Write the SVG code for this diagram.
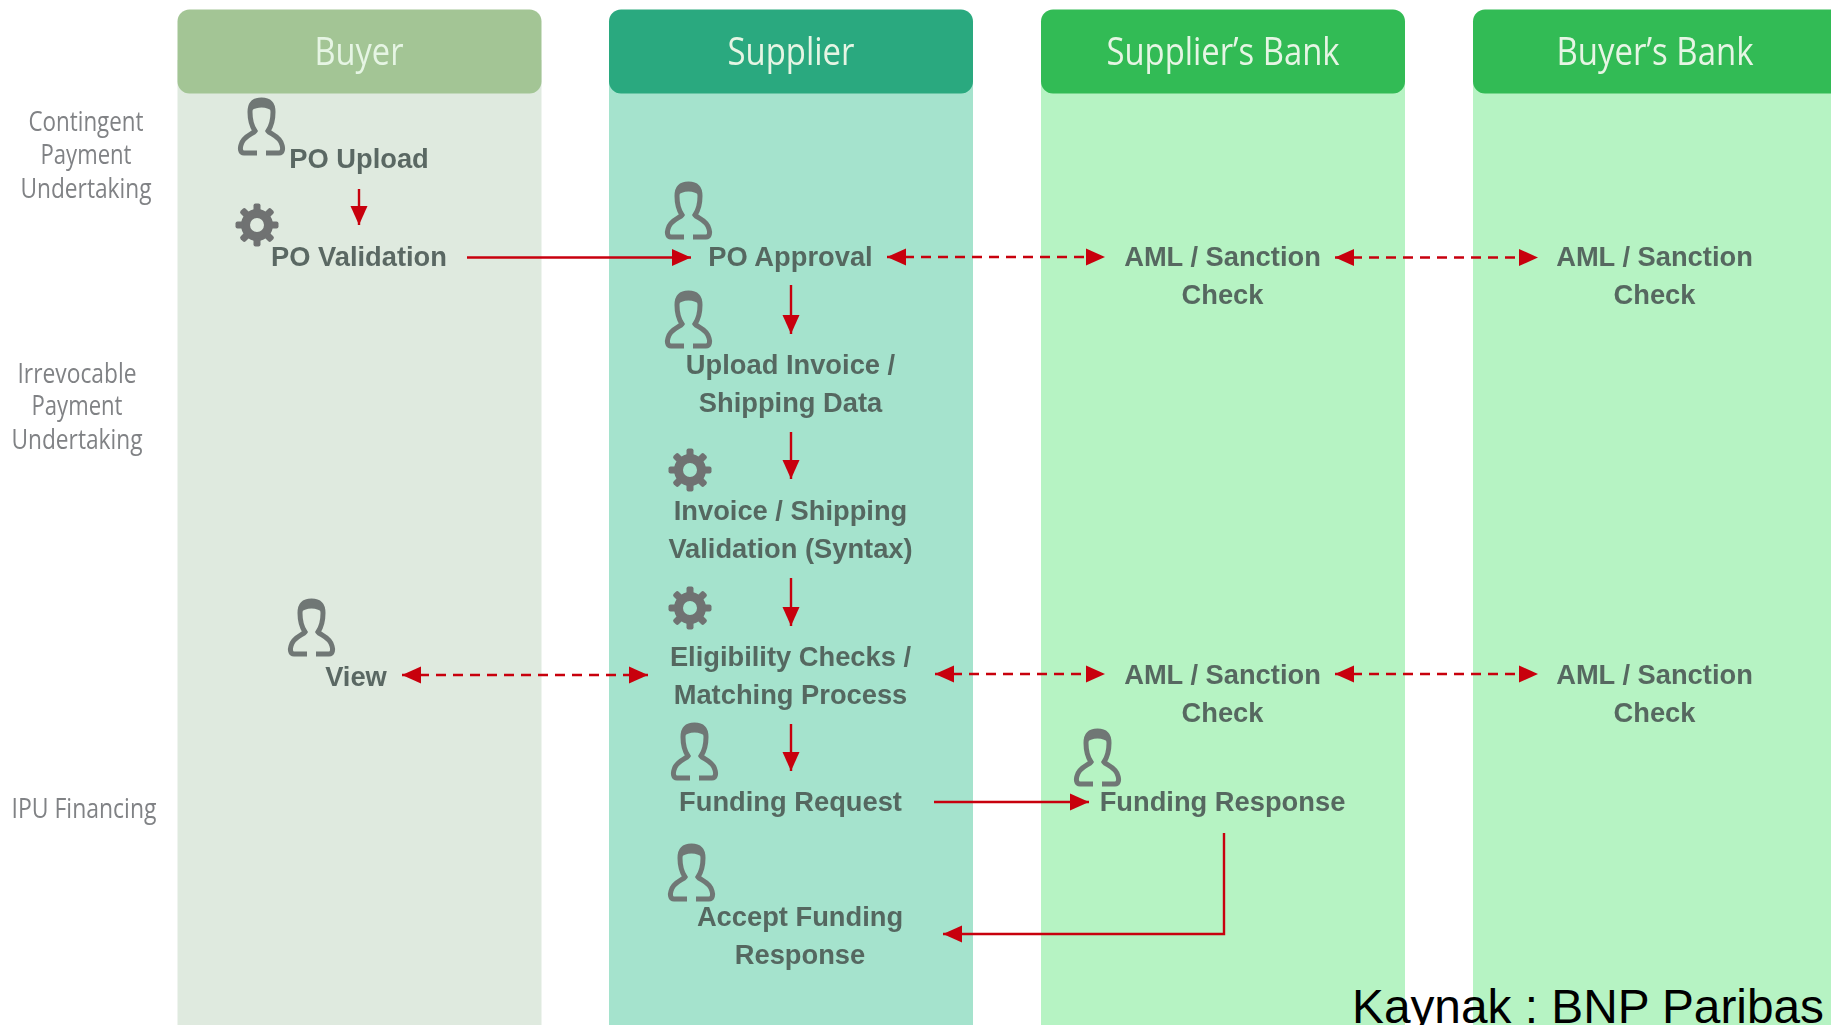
<svg xmlns="http://www.w3.org/2000/svg" xmlns:xlink="http://www.w3.org/1999/xlink" width="1831" height="1025" viewBox="0 0 1831 1025">
<style>
.hd{font-family:"Open Sans","Noto Sans",sans-serif;font-size:38px;fill:#e6f5e4;text-anchor:middle}
.sd{font-family:"Open Sans","Noto Sans",sans-serif;font-size:26.500px;fill:#808285;text-anchor:middle}
.lb{font-family:"Liberation Sans",Arial,sans-serif;font-weight:700;font-size:27.300px;fill:#4e5c58;fill-opacity:.92;text-anchor:middle}
.src{font-family:"Liberation Sans",Arial,sans-serif;font-size:47.800px;fill:#000}
.ln{fill:none;stroke:#c8000f;stroke-width:2.400}
.dash{stroke-dasharray:10 7;marker-start:url(#ah);marker-end:url(#ah)}
.solid{marker-end:url(#ah)}
.ic{fill:none;stroke:#6f7775;stroke-width:5}
.gf{fill:#6f7272}
</style>
<defs>
<marker id="ah" markerUnits="userSpaceOnUse" markerWidth="21" markerHeight="20" refX="19" refY="9" orient="auto-start-reverse"><path d="M0 0.500L19 9L0 17.500Z" fill="#c8000f"/></marker>
<g id="person"><path class="ic" d="M19 55H6C2 55 2 50 3 47C5 38 15 36 17 33C15 30 12 24 12 14C12 5 17 2 23.500 2C30 2 35 5 35 14C35 24 32 30 30 33C32 36 42 38 44 47C45 50 45 55 41 55H28"/><path d="M12 14C12 4 17 0 23.500 0C30 0 35 4 35 14C30 8 17 8 12 14Z" fill="#6f7775"/></g>
<g id="gear" class="gf"><circle r="11.500" fill="none" stroke="#6f7272" stroke-width="9"/><rect x="-3.500" y="-21.500" width="7" height="8" rx="2"/><rect x="-3.500" y="-21.500" width="7" height="8" rx="2" transform="rotate(45)"/><rect x="-3.500" y="-21.500" width="7" height="8" rx="2" transform="rotate(90)"/><rect x="-3.500" y="-21.500" width="7" height="8" rx="2" transform="rotate(135)"/><rect x="-3.500" y="-21.500" width="7" height="8" rx="2" transform="rotate(180)"/><rect x="-3.500" y="-21.500" width="7" height="8" rx="2" transform="rotate(225)"/><rect x="-3.500" y="-21.500" width="7" height="8" rx="2" transform="rotate(270)"/><rect x="-3.500" y="-21.500" width="7" height="8" rx="2" transform="rotate(315)"/></g>
<filter id="soft" x="0" y="0" width="100%" height="100%"><feGaussianBlur stdDeviation=".6"/></filter>
</defs>
<rect width="1831" height="1025" fill="#fff"/>
<g filter="url(#soft)">
<g id="lane-buyer"><rect x="177.500" y="60" width="364" height="965" fill="#dfeadf"/><rect x="177.500" y="9.500" width="364" height="84" rx="12" fill="#a3c595"/><text class="hd" x="359" y="65" textLength="89" lengthAdjust="spacingAndGlyphs">Buyer</text></g>
<g id="lane-supplier"><rect x="609" y="60" width="364" height="965" fill="#a5e3cd"/><rect x="609" y="9.500" width="364" height="84" rx="12" fill="#2aa97f"/><text class="hd" x="791" y="65" textLength="127" lengthAdjust="spacingAndGlyphs">Supplier</text></g>
<g id="lane-suppliers-bank"><rect x="1041" y="60" width="364" height="965" fill="#b6f3c3"/><rect x="1041" y="9.500" width="364" height="84" rx="12" fill="#33bb55"/><text class="hd" x="1223" y="65" textLength="233" lengthAdjust="spacingAndGlyphs">Supplier’s Bank</text></g>
<g id="lane-buyers-bank"><rect x="1473" y="60" width="358" height="965" fill="#b6f3c3"/><path d="M1831 9.500H1485a12 12 0 0 0-12 12V81.500a12 12 0 0 0 12 12H1831Z" fill="#33bb55"/><text class="hd" x="1655" y="65" textLength="197" lengthAdjust="spacingAndGlyphs">Buyer’s Bank</text></g>

<g id="phase-labels">
<text class="sd" x="86" y="131" textLength="115" lengthAdjust="spacingAndGlyphs">Contingent</text>
<text class="sd" x="86" y="164" textLength="91" lengthAdjust="spacingAndGlyphs">Payment</text>
<text class="sd" x="86" y="198" textLength="131" lengthAdjust="spacingAndGlyphs">Undertaking</text>
<text class="sd" x="77" y="383" textLength="119" lengthAdjust="spacingAndGlyphs">Irrevocable</text>
<text class="sd" x="77" y="415" textLength="91" lengthAdjust="spacingAndGlyphs">Payment</text>
<text class="sd" x="77" y="449" textLength="131" lengthAdjust="spacingAndGlyphs">Undertaking</text>
<text class="sd" x="84" y="818" textLength="145" lengthAdjust="spacingAndGlyphs">IPU Financing</text>
</g>

<g id="connectors">
<path class="ln solid" d="M359 189V225"/>
<path class="ln solid" d="M467 257.500H691"/>
<path class="ln solid" d="M791 285V334"/>
<path class="ln solid" d="M791 432V479"/>
<path class="ln solid" d="M791 578V626"/>
<path class="ln solid" d="M791 724V771"/>
<path class="ln dash" d="M887 257H1105"/>
<path class="ln dash" d="M1335 257.500H1538"/>
<path class="ln dash" d="M402 675H648"/>
<path class="ln dash" d="M935 674H1105"/>
<path class="ln dash" d="M1335 674H1538"/>
<path class="ln solid" d="M934 802H1089"/>
<path class="ln solid" d="M1224 833V934H943"/>
</g>

<g id="node-po-upload"><use href="#person" x="238" y="98"/><text class="lb" x="359" y="167.500">PO Upload</text></g>
<g id="node-po-validation"><use href="#gear" transform="translate(257 225)"/><text class="lb" x="359" y="265.500">PO Validation</text></g>
<g id="node-po-approval"><use href="#person" x="665" y="182"/><text class="lb" x="790.500" y="265.500">PO Approval</text></g>
<g id="node-upload-invoice"><use href="#person" x="665" y="291"/><text class="lb" x="790.500" y="373.500">Upload Invoice /</text><text class="lb" x="790.500" y="411.500">Shipping Data</text></g>
<g id="node-invoice-validation"><use href="#gear" transform="translate(690 470)"/><text class="lb" x="790.500" y="519.500">Invoice / Shipping</text><text class="lb" x="790.500" y="557.500">Validation (Syntax)</text></g>
<g id="node-eligibility"><use href="#gear" transform="translate(690 608)"/><text class="lb" x="790.500" y="665.500">Eligibility Checks /</text><text class="lb" x="790.500" y="703.500">Matching Process</text></g>
<g id="node-funding-request"><use href="#person" x="671" y="723"/><text class="lb" x="790.500" y="810.500">Funding Request</text></g>
<g id="node-accept-funding"><use href="#person" x="668" y="844"/><text class="lb" x="800" y="925.500">Accept Funding</text><text class="lb" x="800" y="963.500">Response</text></g>
<g id="node-view"><use href="#person" x="288" y="599"/><text class="lb" x="356" y="685.500">View</text></g>
<g id="node-aml-1"><text class="lb" x="1222.500" y="265.500">AML / Sanction</text><text class="lb" x="1222.500" y="303.500">Check</text></g>
<g id="node-aml-2"><text class="lb" x="1654.500" y="265.500">AML / Sanction</text><text class="lb" x="1654.500" y="303.500">Check</text></g>
<g id="node-aml-3"><text class="lb" x="1222.500" y="683.500">AML / Sanction</text><text class="lb" x="1222.500" y="721.500">Check</text></g>
<g id="node-aml-4"><text class="lb" x="1654.500" y="683.500">AML / Sanction</text><text class="lb" x="1654.500" y="721.500">Check</text></g>
<g id="node-funding-response"><use href="#person" x="1074" y="729"/><text class="lb" x="1222.500" y="810.500">Funding Response</text></g>
</g>
<text id="source" class="src" x="1352" y="1023">Kaynak : BNP Paribas</text>
</svg>
